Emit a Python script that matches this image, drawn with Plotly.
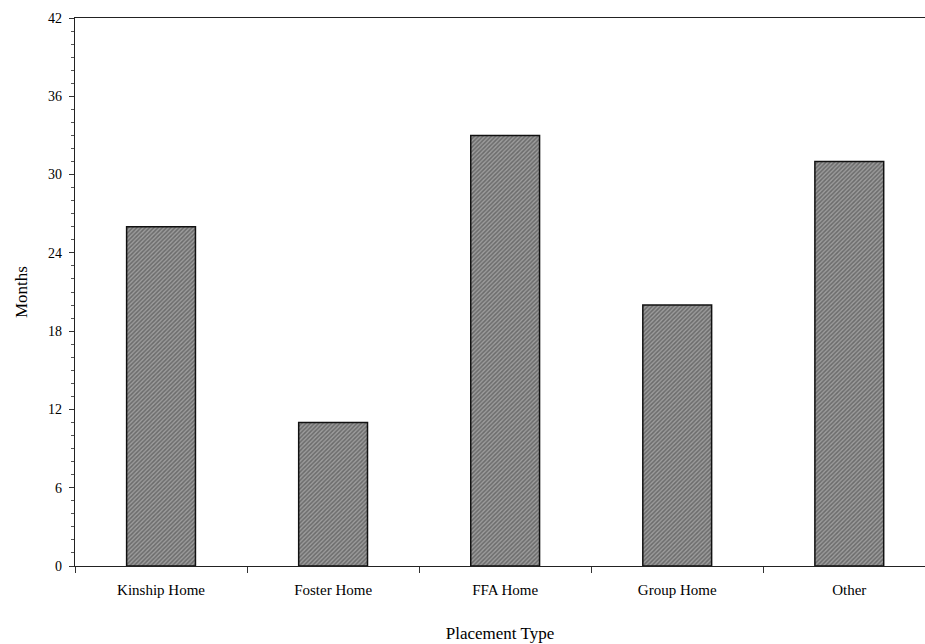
import plotly.graph_objects as go

# Median length of stay by placement type
placement_types = ["Kinship Home", "Foster Home", "FFA Home", "Group Home", "Other"]
months = [26, 11, 33, 20, 31]
y_ticks = [0, 6, 12, 18, 24, 30, 36, 42]

serif = "Liberation Serif, Times New Roman, serif"

fig = go.Figure(
    go.Bar(
        x=placement_types,
        y=months,
        width=0.4,
        marker=dict(
            color="#8a8a8a",
            line=dict(color="#111111", width=1.5),
            pattern=dict(shape="/", fgcolor="#3a3a3a", bgcolor="#9c9c9c", size=3, solidity=0.5),
        ),
        hoverinfo="x+y",
    )
)

fig.update_layout(
    width=925,
    height=644,
    margin=dict(l=75, r=0, t=18, b=78),
    paper_bgcolor="white",
    plot_bgcolor="white",
    showlegend=False,
    font=dict(family=serif, size=14, color="#000000"),
    bargap=0.6,
)

fig.update_xaxes(
    type="category",
    range=[-0.5, 4.44],
    showline=True,
    linecolor="#222222",
    linewidth=1.2,
    mirror=True,
    ticks="outside",
    tickson="boundaries",
    ticklen=6,
    tickcolor="#333333",
    showgrid=False,
    tickfont=dict(family=serif, size=15),
    ticklabelstandoff=10,
    title=dict(text="Placement Type", font=dict(family=serif, size=17), standoff=30),
)

fig.update_yaxes(
    range=[0, 42],
    tickvals=y_ticks,
    ticktext=[str(v) for v in y_ticks],
    showline=True,
    linecolor="#222222",
    linewidth=1.2,
    ticks="outside",
    ticklen=5,
    tickcolor="#333333",
    minor=dict(dtick=1, ticks="outside", ticklen=3, tickcolor="#555555", showgrid=False),
    showgrid=False,
    zeroline=False,
    tickfont=dict(family=serif, size=14),
    ticklabelstandoff=4,
    title=dict(text="Months", font=dict(family=serif, size=17), standoff=16),
)

fig.write_html("out.html")
